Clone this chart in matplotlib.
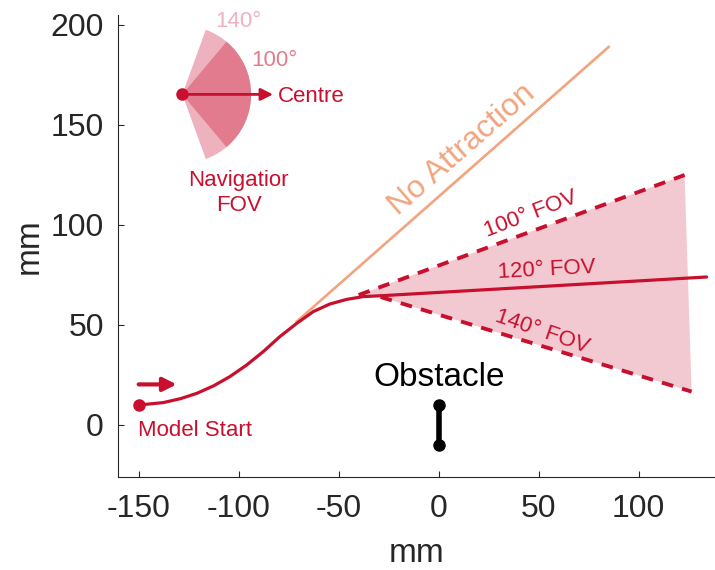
import numpy as np
import matplotlib
matplotlib.use('Agg')
import matplotlib.pyplot as plt
from matplotlib.patches import Wedge, Polygon

plt.rcParams['font.family'] = ['Liberation Sans', 'DejaVu Sans']
plt.rcParams['axes.unicode_minus'] = False

# trajectory of the model (mm)
path_x = [-150, -137.7, -129, -121, -112.5, -104.4, -96, -87.7, -79.4, -71, -62.7, -54.4, -46, -37.7, -29.4, 134]
path_y = [10, 11.2, 13.2, 15.8, 19.6, 24.2, 30.0, 36.7, 44.2, 50.8, 56.7, 60.5, 62.8, 64.2, 64.6, 74]

# no attraction branch
no_attr_x = [-71, 85]
no_attr_y = [51.7, 189]

# FOV limits
fov100_x = [-40, 123]
fov100_y = [65, 125]
fov140_x = [-29, 126.5]
fov140_y = [64, 16.7]
fov_fill_x = [-40, 123, 126.5, -29]
fov_fill_y = [65, 125, 16.7, 64]

# obstacle
obs_x = [0, 0]
obs_y = [-10, 10]

# start marker
start_x, start_y = -150, 10
start_arrow_x = [-150, -131]
start_arrow_y = 20.3

# navigator FOV icon
fan_cx, fan_cy = -128.2, 165.3
fan_r = 34.4
fan_angles = [140, 100]
centre_tip_x = -82.8

RED = '#C8102E'
ORANGE = '#F2A47E'
FILL = '#F3C9D1'
W140 = '#EEB2BF'
W100 = '#E27B8D'
GREY = '#262626'

fig = plt.figure(figsize=(7.15, 5.7), dpi=100)
ax = fig.add_axes([117.7 / 715, 1 - 477 / 570, (715 - 117.7) / 715, (477 - 15) / 570])

ax.add_patch(Polygon(np.column_stack([fov_fill_x, fov_fill_y]), closed=True,
                     facecolor=FILL, edgecolor='none', zorder=1))
ax.plot(no_attr_x, no_attr_y, color=ORANGE, lw=1.9, zorder=2)
ax.plot(fov100_x, fov100_y, color=RED, lw=2.8, dashes=(3.0, 2.4), zorder=3)
ax.plot(fov140_x, fov140_y, color=RED, lw=2.8, dashes=(3.0, 2.4), zorder=3)
ax.plot(path_x, path_y, color=RED, lw=2.3, solid_capstyle='round', solid_joinstyle='round', zorder=4)
ax.plot(start_x, start_y, 'o', color=RED, ms=8, zorder=5)
ax.annotate('', xy=(start_arrow_x[1], start_arrow_y), xytext=(start_arrow_x[0], start_arrow_y),
            arrowprops=dict(arrowstyle='-|>', color=RED, lw=3, mutation_scale=20,
                            shrinkA=0, shrinkB=0))

ax.plot(obs_x, obs_y, color='black', lw=4, marker='o', ms=8, zorder=5)

# navigator icon
for ang, col in zip(fan_angles, [W140, W100]):
    ax.add_patch(Wedge((fan_cx, fan_cy), fan_r, -ang / 2, ang / 2, facecolor=col,
                       edgecolor='none', zorder=3))
ax.annotate('', xy=(centre_tip_x, fan_cy), xytext=(fan_cx, fan_cy),
            arrowprops=dict(arrowstyle='-|>', color=RED, lw=2, mutation_scale=18,
                            shrinkA=0, shrinkB=0), zorder=6)
ax.plot(fan_cx, fan_cy, 'o', color=RED, ms=8, zorder=6)

# text
ax.text(-80.3, 164, 'Centre', color=RED, fontsize=16, ha='left', va='center')
ax.text(-100, 201.6, '140°', color=W140, fontsize=16, ha='center', va='center')
ax.text(-82.3, 182.5, '100°', color=W100, fontsize=16, ha='center', va='center')
ax.text(-100, 116, 'Navigatior\nFOV', color=RED, fontsize=16, ha='center', va='center',
        linespacing=1.2)
ax.text(-150.5, -3, 'Model Start', color=RED, fontsize=16, ha='left', va='center')
ax.text(0, 24, 'Obstacle', color='black', fontsize=24, ha='center', va='center')
ax.text(11.7, 137.5, 'No Attraction', color=ORANGE, fontsize=23, ha='center', va='center',
        rotation=41)
ax.text(46, 105.5, '100° FOV', color=RED, fontsize=16, ha='center', va='center', rotation=21)
ax.text(54, 77.5, '120° FOV', color=RED, fontsize=16, ha='center', va='center', rotation=3)
ax.text(52, 46.5, '140° FOV', color=RED, fontsize=16, ha='center', va='center', rotation=-19)

ax.set_xlim(-160.5, 138.2)
ax.set_ylim(-26, 205)
ax.set_xticks([-150, -100, -50, 0, 50, 100])
ax.set_yticks([0, 50, 100, 150, 200])
for s in ['top', 'right']:
    ax.spines[s].set_visible(False)
for s in ['left', 'bottom']:
    ax.spines[s].set_color(GREY)
    ax.spines[s].set_linewidth(0.8)
ax.tick_params(direction='in', length=4, width=0.8, color=GREY, labelcolor=GREY,
               labelsize=23)
ax.tick_params(axis='x', pad=12)
ax.tick_params(axis='y', pad=10)
ax.set_xlabel('mm', fontsize=24, color=GREY, labelpad=10)
ax.set_ylabel('mm', fontsize=24, color=GREY, labelpad=4)

fig.savefig('out.png', dpi=100)
